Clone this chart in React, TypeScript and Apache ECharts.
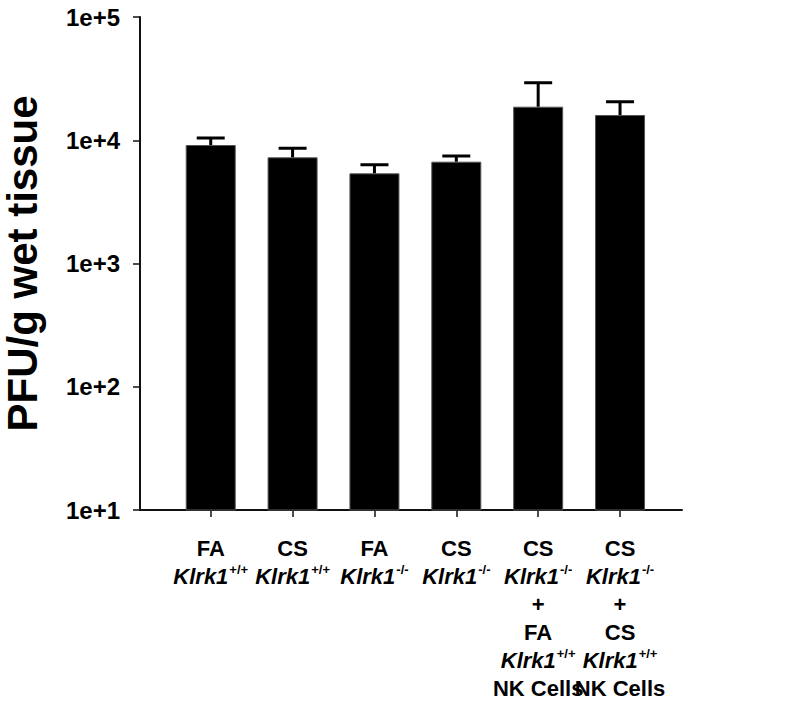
import React, { useEffect, useRef } from "react";
import * as echarts from "echarts";

const categories: string[][] = [
  ["FA", "Klrk1|+/+"],
  ["CS", "Klrk1|+/+"],
  ["FA", "Klrk1|-/-"],
  ["CS", "Klrk1|-/-"],
  ["CS", "Klrk1|-/-", "+", "FA", "Klrk1|+/+", "NK Cells"],
  ["CS", "Klrk1|-/-", "+", "CS", "Klrk1|+/+", "NK Cells"],
];
const means: number[] = [9150, 7270, 5390, 6700, 18720, 16030];
const upperErr: number[] = [10430, 8600, 6340, 7450, 29300, 20550];
const yTicks: number[] = [10, 100, 1000, 10000, 100000];
const yTitle = "PFU/g wet tissue";

const FONT = "'Liberation Sans', Arial, Helvetica, sans-serif";

function labelFor(idx: number): string {
  const lines = categories[idx];
  if (!lines) return "";
  return lines
    .map((ln) => {
      if (ln.includes("|")) {
        const [base, sup] = ln.split("|");
        return `{i|${base}}{s|${sup}}`;
      }
      return `{b|${ln}}`;
    })
    .join("\n");
}

const richStyles = {
  b: { fontFamily: FONT, fontWeight: "bold", fontSize: 22, lineHeight: 28, color: "#000" },
  i: { fontFamily: FONT, fontWeight: "bold", fontStyle: "italic", fontSize: 22, lineHeight: 28, color: "#000" },
  s: { fontFamily: FONT, fontWeight: "bold", fontSize: 13, lineHeight: 28, verticalAlign: "top", padding: [1, 0, 0, 1], color: "#000" },
};

const X_MIN = -0.864;
const X_MAX = 5.757;

export default function App() {
  const ref = useRef<HTMLDivElement>(null);
  useEffect(() => {
    document.body.style.margin = "0";
    if (!ref.current) return;
    const chart = echarts.init(ref.current, undefined, { renderer: "svg" });
    const idxs = categories.map((_, i) => i);
    const evenIdx = idxs.filter((i) => i % 2 === 0);
    const oddIdx = idxs.filter((i) => i % 2 === 1);
    const labelAxis = (vals: number[], showLine: boolean) => ({
      type: "value",
      min: X_MIN,
      max: X_MAX,
      position: "bottom",
      offset: 0,
      splitLine: { show: false },
      axisLine: { show: showLine, onZero: false, lineStyle: { color: "#111", width: 2 } },
      axisTick: {
        show: true,
        customValues: vals,
        length: 7,
        lineStyle: { color: "#111", width: 1.5 },
      },
      axisLabel: {
        show: true,
        customValues: vals,
        hideOverlap: false,
        margin: 24,
        formatter: (v: number) => labelFor(Math.round(v)),
        rich: richStyles,
      },
    });
    chart.setOption({
      animation: false,
      backgroundColor: "#ffffff",
      grid: {
        left: 140,
        right: 118,
        top: 17,
        bottom: 195,
        containLabel: false,
        outerBoundsMode: "none",
      },
      xAxis: [labelAxis(evenIdx, true), labelAxis(oddIdx, false)],
      yAxis: {
        type: "log",
        logBase: 10,
        min: yTicks[0],
        max: yTicks[yTicks.length - 1],
        splitLine: { show: false },
        axisLine: { show: true, onZero: false, lineStyle: { color: "#111", width: 2 } },
        axisTick: { show: true, length: 7, lineStyle: { color: "#111", width: 1.5 } },
        axisLabel: {
          margin: 20,
          fontFamily: FONT,
          fontWeight: "bold",
          fontSize: 24,
          color: "#000",
          formatter: (v: number) => `1e+${Math.round(Math.log10(v))}`,
        },
        name: yTitle,
        nameLocation: "middle",
        nameGap: 97,
        nameTextStyle: { fontFamily: FONT, fontWeight: "bold", fontSize: 42, color: "#000" },
      },
      series: [
        {
          type: "bar",
          xAxisIndex: 0,
          barWidth: 50,
          itemStyle: { color: "#000", borderColor: "#555", borderWidth: 1 },
          data: means.map((m, i) => [i, m]),
        },
        {
          type: "custom",
          xAxisIndex: 0,
          dimensions: ["x", "mean", "upper"],
          encode: { x: 0, y: [1, 2] },
          data: means.map((m, i) => [i, m, upperErr[i]]),
          renderItem: (params: any, api: any) => {
            const x = api.value(0);
            const top = api.coord([x, api.value(2)]);
            const bot = api.coord([x, api.value(1)]);
            const half = 14;
            return {
              type: "path",
              shape: {
                pathData: `M${top[0] - half},${top[1]}L${top[0] + half},${top[1]}M${top[0]},${top[1]}L${bot[0]},${bot[1]}`,
              },
              style: { stroke: "#000", lineWidth: 3, fill: "none" },
            };
          },
          z: 3,
        },
      ],
    });
    return () => chart.dispose();
  }, []);
  return <div ref={ref} style={{ width: 800, height: 705 }} />;
}
